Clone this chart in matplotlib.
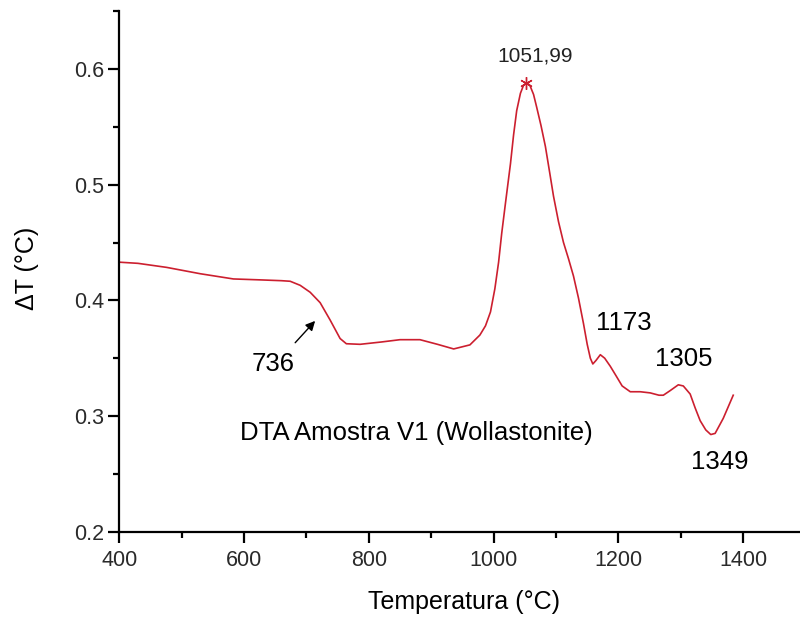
import matplotlib
matplotlib.use("Agg")
import matplotlib.pyplot as plt
from matplotlib.ticker import MultipleLocator

plt.rcParams['font.family'] = ['Liberation Sans', 'DejaVu Sans']

temperature = [400, 430, 476, 530, 583, 626, 660, 674, 690, 706, 722, 738, 754, 764,
               786, 820, 850, 882, 910, 936, 962, 978, 987, 995, 1002, 1008, 1013,
               1019, 1027, 1032, 1037, 1043, 1048, 1053, 1058, 1064, 1069, 1076, 1083,
               1090, 1096, 1104, 1112, 1120, 1128, 1136, 1144, 1150, 1155, 1159, 1164,
               1171, 1178, 1187, 1196, 1206, 1219, 1235, 1251, 1265, 1272, 1283, 1296,
               1304, 1315, 1323, 1331, 1340, 1348, 1355, 1362, 1368, 1376, 1384]
delta_t = [0.433, 0.432, 0.4285, 0.423, 0.4185, 0.4177, 0.417, 0.4165, 0.413, 0.407,
           0.398, 0.383, 0.367, 0.3625, 0.362, 0.364, 0.366, 0.366, 0.362, 0.358,
           0.3615, 0.370, 0.378, 0.390, 0.410, 0.433, 0.458, 0.484, 0.518, 0.543,
           0.564, 0.579, 0.586, 0.588, 0.586, 0.578, 0.567, 0.551, 0.533, 0.510,
           0.490, 0.468, 0.450, 0.436, 0.421, 0.402, 0.380, 0.362, 0.350, 0.345,
           0.348, 0.353, 0.350, 0.343, 0.335, 0.326, 0.321, 0.321, 0.320, 0.318,
           0.318, 0.322, 0.327, 0.326, 0.319, 0.307, 0.296, 0.288, 0.284, 0.285,
           0.292, 0.298, 0.308, 0.318]

peak_x, peak_y = 1052, 0.588
peak_label = "1051,99"
labels = ["1173", "1305", "1349", "736"]
label_x = [1208, 1305, 1362, 647]
label_y = [0.380, 0.349, 0.260, 0.345]
title = "DTA Amostra V1 (Wollastonite)"

fig = plt.figure(figsize=(8, 6.19), dpi=100)
ax = fig.add_axes([0.149, 0.141, 0.851, 0.841])

red = '#cc1f2f'
ax.plot(temperature, delta_t, color=red, lw=1.2)
ax.plot([peak_x], [peak_y], marker=(6, 2, 0), color=red, ms=9, mew=1)
ax.text(peak_x + 15, 0.611, peak_label, ha='center', va='center', fontsize=15, color='#222222')

for t, x, y in zip(labels, label_x, label_y):
    ax.text(x, y, t, ha='center', va='center', fontsize=18.5, color='black')

ax.annotate('', xy=(717, 0.384), xytext=(679, 0.3616),
            arrowprops=dict(arrowstyle='-|>', color='black', lw=1, mutation_scale=14))

ax.text(876, 0.2854, title, ha='center', va='center', fontsize=18.5, color='black')

ax.set_xlim(400, 1491)
ax.set_ylim(0.2, 0.65)
ax.xaxis.set_major_locator(MultipleLocator(200))
ax.xaxis.set_minor_locator(MultipleLocator(100))
ax.yaxis.set_major_locator(MultipleLocator(0.1))
ax.yaxis.set_minor_locator(MultipleLocator(0.05))
ax.yaxis.set_major_formatter(plt.FuncFormatter(lambda v, p: f"{v:.1f}"))

for s in ['top', 'right']:
    ax.spines[s].set_visible(False)
for s in ['left', 'bottom']:
    ax.spines[s].set_linewidth(1.6)

ax.tick_params(which='major', direction='out', length=8, width=1.6, labelsize=15.5,
               labelcolor='#2a2a2a')
ax.tick_params(which='minor', direction='out', length=4, width=1.6)
ax.tick_params(axis='x', which='major', pad=5)
ax.tick_params(axis='y', which='major', pad=3)

ax.set_xlabel("Temperatura (°C)", fontsize=18, va='center')
ax.set_ylabel("ΔT (°C)", fontsize=18, va='center')
ax.xaxis.set_label_coords(0.506, -0.135)
ax.yaxis.set_label_coords(-0.135, 0.505)

fig.savefig("out.png", dpi=100)
